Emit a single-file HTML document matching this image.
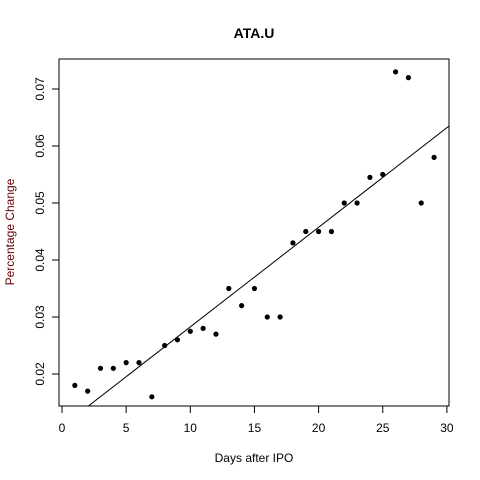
<!DOCTYPE html>
<html><head><meta charset="utf-8"><style>
body{margin:0;background:#fff}
svg{display:block;font-family:"Liberation Sans",Arial,sans-serif}
</style></head><body>
<svg id="chart" width="480" height="480">
<rect width="480" height="480" fill="#fff"/>
<defs><clipPath id="pc"><rect x="59" y="59" width="390" height="347"/></clipPath></defs>
<text x="254" y="38" text-anchor="middle" font-weight="bold" font-size="14">ATA.U</text>
<rect x="59" y="59" width="390" height="347" fill="none" stroke="#000"/>
<text x="254" y="462" text-anchor="middle" font-size="12">Days after IPO</text>
<text transform="translate(14,232) rotate(-90)" text-anchor="middle" font-size="12" fill="#600">Percentage Change</text>
<g id="axes"></g><g id="marks" clip-path="url(#pc)"></g>
</svg>
<script>
const days=[1,2,3,4,5,6,7,8,9,10,11,12,13,14,15,16,17,18,19,20,21,22,23,24,25,26,27,28,29];
const pctChange=[0.018,0.017,0.021,0.021,0.022,0.022,0.016,0.025,0.026,0.0275,0.028,0.027,0.035,0.032,0.035,0.030,0.030,0.043,0.045,0.045,0.045,0.050,0.050,0.0545,0.055,0.073,0.072,0.050,0.058];
const xTicks=[0,5,10,15,20,25,30];
const yTicks=[0.02,0.03,0.04,0.05,0.06,0.07];
const NS="http://www.w3.org/2000/svg";
const xs=v=>62+v*12.83;
const ys=v=>374-(v-0.02)*5700;
const ax=document.getElementById('axes'),mk=document.getElementById('marks');
function el(t,a,p){const e=document.createElementNS(NS,t);for(const k in a)e.setAttribute(k,a[k]);p.appendChild(e);return e;}
el('line',{x1:xs(0),x2:xs(30),y1:406,y2:406,stroke:'#000'},ax);
xTicks.forEach(t=>{
 const l=el('line',{x1:xs(t),x2:xs(t),y1:406,y2:413,stroke:'#000'},ax);
 
 
 const tx=el('text',{x:xs(t),y:432,'text-anchor':'middle','font-size':12},ax);tx.textContent=t;
 
 
});
el('line',{x1:59,x2:59,y1:ys(0.02),y2:ys(0.07),stroke:'#000'},ax);
yTicks.forEach(t=>{
 const l=el('line',{x1:52,x2:59,y1:ys(t),y2:ys(t),stroke:'#000'},ax);
 
 
 const tx=el('text',{x:0,y:0,'text-anchor':'middle','font-size':12,transform:`translate(44,${ys(t)}) rotate(-90)`},ax);tx.textContent=t.toFixed(2);
 
 
});
const n=days.length,mx=days.reduce((a,b)=>a+b)/n,my=pctChange.reduce((a,b)=>a+b)/n;
let sxy=0,sxx=0;days.forEach((d,i)=>{sxy+=(d-mx)*(pctChange[i]-my);sxx+=(d-mx)**2;});
const b=sxy/sxx,a=my-b*mx;
const ln=el('line',{x1:xs(-2),y1:ys(a+b*-2),x2:xs(32),y2:ys(a+b*32),stroke:'#000'},mk);


days.forEach((d,i)=>{
 const c=el('circle',{cx:xs(d),cy:ys(pctChange[i]),r:2.6,fill:'#000'},mk);
 
 
});
</script>
</body></html>
